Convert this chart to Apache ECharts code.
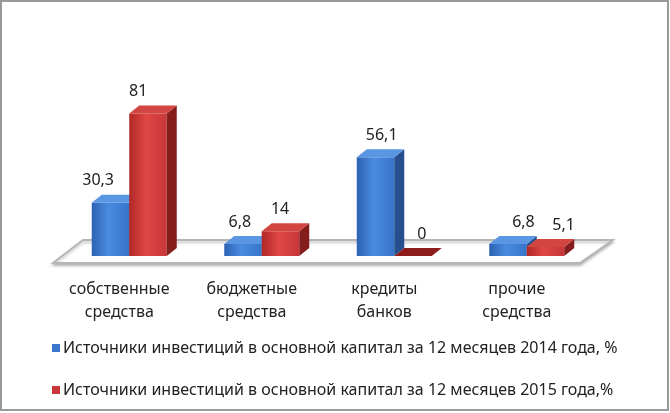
<!DOCTYPE html>
<html>
<head>
<meta charset="utf-8">
<script src="https://cdn.jsdelivr.net/npm/echarts@6/dist/echarts.min.js"></script>
<style>
  html, body { margin: 0; padding: 0; background: #fff; }
  #chart { width: 670px; height: 413px; }
</style>
</head>
<body>
<div id="chart"></div>
<script>
// data
const categories = ['собственные средства', 'бюджетные средства', 'кредиты банков', 'прочие средства']
const seriesNames = [
  'Источники инвестиций в основной капитал за 12 месяцев 2014 года, %',
  'Источники инвестиций в основной капитал за 12 месяцев 2015 года,%'
]
const values2014 = [30.3, 6.8, 56.1, 6.8]
const values2015 = [81, 14, 0, 5.1]

const FONT = '"Noto Sans", "Open Sans", sans-serif'
const DX = 10, DY = 8

const palettes = [
  { front: ['#2d62b2', '#4a8ce0', '#3674c8'], side: '#274f8e', top: '#5a96e2', flat: '#2a5a9c' },
  { front: ['#b02826', '#df4844', '#c8363a'], side: '#861d1d', top: '#d24540', flat: '#8e1c1c' }
]

function fmt(v) {
  return String(v).replace('.', ',')
}

function renderBar(params, api) {
  const pal = palettes[params.seriesIndex - 1]
  const cat = api.value(0)
  const val = api.value(1)
  const base = api.coord([cat, 0])
  const top = api.coord([cat, val])
  const band = api.size([1, 0])[0]
  const w = band * 0.283
  const x0 = params.seriesIndex === 1 ? base[0] - w : base[0]
  const x1 = x0 + w
  const yb = base[1]
  const yt = top[1]
  const cx = (x0 + x1) / 2
  const children = []
  if (yb - yt > 0.5) {
    children.push({
      type: 'rect',
      shape: { x: x0, y: yt, width: w, height: yb - yt },
      style: {
        fill: new echarts.graphic.LinearGradient(0, 0, 1, 0, [
          { offset: 0, color: pal.front[0] },
          { offset: 0.45, color: pal.front[1] },
          { offset: 1, color: pal.front[2] }
        ])
      }
    })
    children.push({
      type: 'polygon',
      shape: { points: [[x1, yt], [x1 + DX, yt - DY], [x1 + DX, yb - DY], [x1, yb]] },
      style: { fill: pal.side }
    })
  }
  children.push({
    type: 'polygon',
    shape: { points: [[x0, yt], [x0 + DX, yt - DY], [x1 + DX, yt - DY], [x1, yt]] },
    style: { fill: val === 0 ? pal.flat : pal.top }
  })
  children.push({
    type: 'text',
    style: {
      text: fmt(val),
      x: cx + 3 + (cx - 330) * 0.07,
      y: yt - DY - 6,
      align: 'center',
      verticalAlign: 'bottom',
      fill: '#222',
      font: '16px ' + FONT
    }
  })
  return { type: 'group', children: children }
}

function renderFloor(params, api) {
  const cs = params.coordSys
  const yb = cs.y + cs.height
  const l = cs.x, r = cs.x + cs.width
  return {
    type: 'polygon',
    shape: { points: [[l - 10, yb + 7], [l + 20, yb - 16], [r + 20, yb - 16], [r - 13, yb + 7]] },
    style: {
      fill: '#fff',
      stroke: '#b5b5b5',
      lineWidth: 1.8,
      shadowBlur: 3,
      shadowColor: 'rgba(0,0,0,0.25)',
      shadowOffsetY: 2
    }
  }
}

const myChart = echarts.init(document.getElementById('chart'))
myChart.setOption({
  animation: false,
  graphic: [
    {
      type: 'rect',
      shape: { x: 1, y: 1, width: 667, height: 409 },
      style: { fill: 'none', stroke: '#9a9a9a', lineWidth: 2 }
    }
  ],
  legend: {
    data: seriesNames,
    orient: 'vertical',
    left: 47,
    top: 335,
    itemWidth: 8,
    itemHeight: 8,
    itemGap: 26,
    icon: 'rect',
    textStyle: { fontFamily: FONT, fontSize: 16, color: '#222', padding: [0, 0, 0, -2] }
  },
  grid: { left: 63, right: 77, top: 80, bottom: 157 },
  xAxis: {
    type: 'category',
    data: categories,
    axisLine: { show: false },
    axisTick: { show: false },
    axisLabel: {
      margin: 22,
      fontFamily: FONT,
      fontSize: 16,
      color: '#222',
      lineHeight: 23,
      padding: [0, 20, 0, 0],
      formatter: v => v.replace(' ', '\n')
    }
  },
  yAxis: {
    type: 'value',
    min: 0,
    max: 100,
    show: false
  },
  series: [
    {
      type: 'custom',
      name: 'floor',
      renderItem: renderFloor,
      data: [[0]],
      silent: true,
      z: 1
    },
    {
      type: 'custom',
      name: seriesNames[0],
      renderItem: renderBar,
      itemStyle: { color: '#3a78cc' },
      encode: { x: 0, y: 1 },
      data: values2014.map((v, i) => [i, v]),
      z: 2
    },
    {
      type: 'custom',
      name: seriesNames[1],
      renderItem: renderBar,
      itemStyle: { color: '#c8363a' },
      encode: { x: 0, y: 1 },
      data: values2015.map((v, i) => [i, v]),
      z: 3
    }
  ]
})
</script>
</body>
</html>
